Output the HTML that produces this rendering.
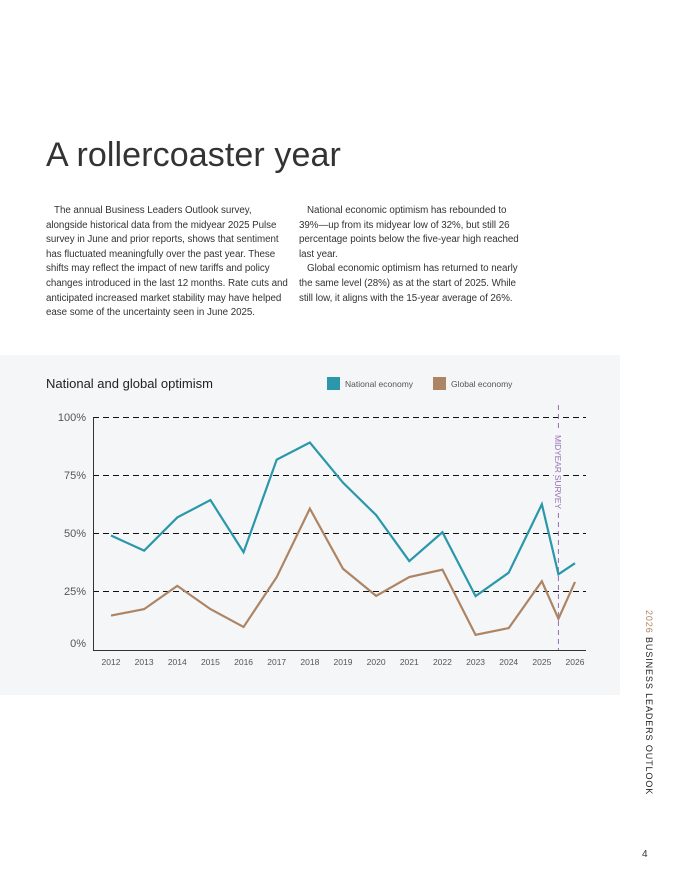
<!DOCTYPE html>
<html><head><meta charset="utf-8">
<style>
html,body{margin:0;padding:0;background:#fff;}
body{width:680px;height:880px;position:relative;overflow:hidden;font-family:"Liberation Sans",sans-serif;color:#222;}
.title{position:absolute;left:46px;top:136px;font-size:34px;font-weight:300;color:#333;margin:0;letter-spacing:0.1px;}
.col{position:absolute;top:204px;font-size:9.8px;line-height:14.6px;color:#333;white-space:nowrap;letter-spacing:-0.05px;}
.col p{margin:0;}
.panel{position:absolute;left:0;top:355px;width:620px;height:340px;background:#f5f6f7;}
.side{position:absolute;left:640px;top:610px;transform-origin:0 0;transform:translate(14px,0) rotate(90deg);font-size:9px;letter-spacing:0.9px;white-space:nowrap;color:#222;}
.pnum{position:absolute;left:642px;top:849px;font-size:10px;color:#333;}
</style></head><body>
<h1 class="title">A rollercoaster year</h1>
<div class="col" style="left:46px">
<p>&nbsp;&nbsp;&nbsp;The annual Business Leaders Outlook survey,<br>alongside historical data from the midyear 2025 Pulse<br>survey in June and prior reports, shows that sentiment<br>has fluctuated meaningfully over the past year. These<br>shifts may reflect the impact of new tariffs and policy<br>changes introduced in the last 12 months. Rate cuts and<br>anticipated increased market stability may have helped<br>ease some of the uncertainty seen in June 2025.</p>
</div>
<div class="col" style="left:299px">
<p>&nbsp;&nbsp;&nbsp;National economic optimism has rebounded to<br>39%—up from its midyear low of 32%, but still 26<br>percentage points below the five-year high reached<br>last year.</p>
<p>&nbsp;&nbsp;&nbsp;Global economic optimism has returned to nearly<br>the same level (28%) as at the start of 2025. While<br>still low, it aligns with the 15-year average of 26%.</p>
</div>
<div class="panel"></div>
<svg id="chart" width="680" height="880" style="position:absolute;left:0;top:0">
<text x="46" y="388" font-size="13" fill="#222" font-family="Liberation Sans, sans-serif">National and global optimism</text>
<rect x="327" y="377" width="13" height="13" fill="#2a97ab"/>
<text x="345" y="387" font-size="8.5" fill="#555" font-family="Liberation Sans, sans-serif">National economy</text>
<rect x="433" y="377" width="13" height="13" fill="#ad8565"/>
<text x="451" y="387" font-size="8.5" fill="#555" font-family="Liberation Sans, sans-serif">Global economy</text>
<g id="plot"></g>
</svg>
<div class="side"><span style="color:#b0835e">2026</span> BUSINESS LEADERS OUTLOOK</div>
<div class="pnum">4</div>
<script>
const years = [2012,2013,2014,2015,2016,2017,2018,2019,2020,2021,2022,2023,2024,2025,2025.5,2026];
const yearLabels = [2012,2013,2014,2015,2016,2017,2018,2019,2020,2021,2022,2023,2024,2025,2026];
const nationalValues = [48.9,42.4,56.7,64.2,41.7,81.6,89,71.7,57.7,37.9,50.3,22.8,32.9,62.4,32.2,37];
const globalValues = [14.4,17.2,27.2,17.2,9.5,31,60.5,34.6,22.9,31,34.2,6.1,9,29.2,13,28.9];
const yTicks = [0,25,50,75,100];
const midyear = 2025.5;

const NS='http://www.w3.org/2000/svg';
const g=document.getElementById('plot');
const x0=93,x1=586,yTop=417,yBot=649;
const xs=y=>111+(y-2012)*(575-111)/14;
const ys=v=>yBot-(v/100)*(yBot-yTop);
function mk(t,a){const e=document.createElementNS(NS,t);for(const k in a)e.setAttribute(k,a[k]);g.appendChild(e);return e;}
yTicks.forEach(v=>{
  if(v>0){const l=mk('line',{x1:x0,x2:x1,y1:Math.round(ys(v))+0.5,y2:Math.round(ys(v))+0.5,stroke:'#111','stroke-width':1,'stroke-dasharray':'6,4'});
  
  }
  const t=mk('text',{x:86,y:v===0?ys(v)-2:ys(v)+4,'text-anchor':'end','font-size':11,fill:'#555','font-family':'Liberation Sans, sans-serif'});
  t.textContent=v+'%';
  
  
});
const ax=mk('path',{d:`M${x0+0.5},${yTop}V650.5H${x1}`,fill:'none',stroke:'#333','stroke-width':1});


yearLabels.forEach(y=>{
  const t=mk('text',{x:xs(y),y:665,'text-anchor':'middle','font-size':8.5,fill:'#555','font-family':'Liberation Sans, sans-serif'});
  t.textContent=y;
  
  
});
const ml=mk('line',{x1:xs(midyear),x2:xs(midyear),y1:405,y2:650,stroke:'#9a6fb5','stroke-width':1,'stroke-dasharray':'5,4'});


const mb=mk('rect',{x:xs(midyear)-5,y:432,width:10,height:80,fill:'#f5f6f7'});


const mt=mk('text',{transform:`translate(${xs(midyear)-3.5},435) rotate(90)`,'font-size':8.5,fill:'#9a6fb5','font-family':'Liberation Sans, sans-serif','textLength':74});
mt.textContent='MIDYEAR SURVEY';


function line(vals,color,name){
  const p=mk('polyline',{points:vals.map((v,i)=>xs(years[i])+','+ys(v)).join(' '),fill:'none',stroke:color,'stroke-width':2.2,'stroke-linejoin':'miter'});
  
  
}
line(globalValues,'#ad8565','global-economy-line');
line(nationalValues,'#2a97ab','national-economy-line');
</script>
</body></html>
